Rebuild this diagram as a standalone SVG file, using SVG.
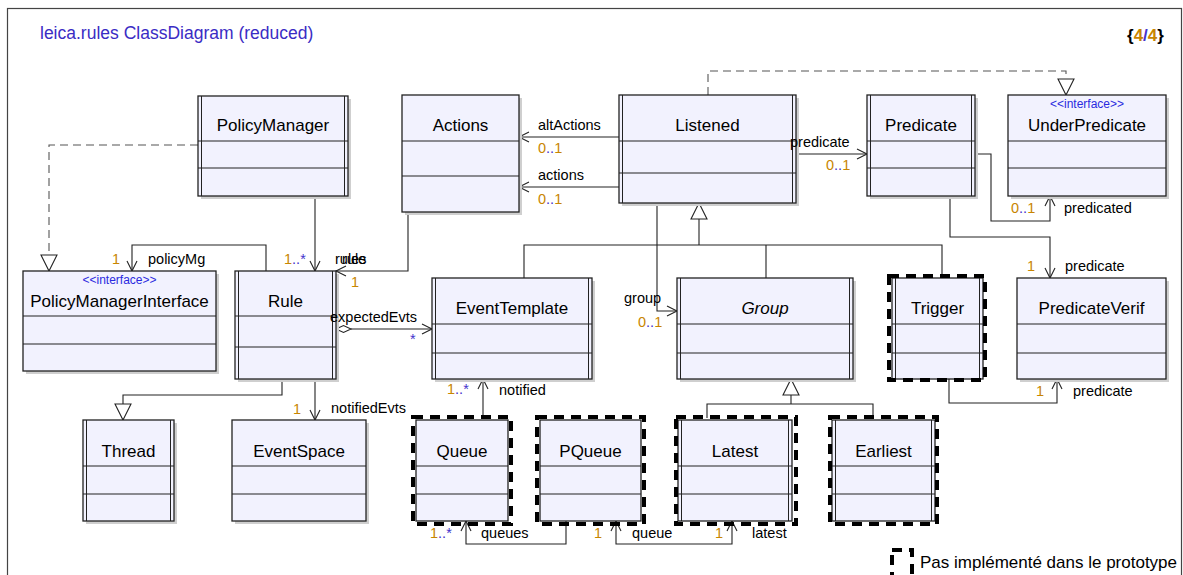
<svg xmlns="http://www.w3.org/2000/svg" width="1183" height="575" viewBox="0 0 1183 575">
<style>
text{font-family:"Liberation Sans",Arial,sans-serif;}
.frame{fill:#fff;stroke:#444;stroke-width:1.2}
.title{font-size:17.5px;fill:#3a2cc4}
.box{fill:#f2f2fe;stroke:#222;stroke-width:1.3}
.sh{fill:#cfcfcf}
.sep{stroke:#222;stroke-width:1.2}
.act{stroke:#222;stroke-width:1}
.name{font-size:17px;fill:#000;text-anchor:middle}
.ital{font-style:italic}
.stereo{font-size:12px;fill:#2a2ae0;text-anchor:middle}
.ni{fill:none;stroke:#000;stroke-width:4;stroke-dasharray:10 7}
.conn{fill:none;stroke:#222;stroke-width:1.1}
.dash{stroke-dasharray:8 5;stroke:#555}
.lbl{font-size:14.5px;fill:#000}
.m{font-size:14.5px;fill:#c88500}
.b{fill:#4433cc}
</style>
<defs>
<marker id="open" markerUnits="userSpaceOnUse" markerWidth="12" markerHeight="12" refX="10" refY="5" orient="auto-start-reverse" overflow="visible">
<path d="M0,0 L10,5 L0,10" fill="none" stroke="#222" stroke-width="1.1"/>
</marker>
<marker id="tri" markerUnits="userSpaceOnUse" markerWidth="18" markerHeight="18" refX="16" refY="8" orient="auto" overflow="visible">
<path d="M0,0 L16,8 L0,16 Z" fill="#fff" stroke="#222" stroke-width="1.1" stroke-dasharray="none"/>
</marker>
</defs>
<rect class="frame" x="7.5" y="8.5" width="1174" height="620"/>
<text class="title" x="40" y="39">leica.rules ClassDiagram (reduced)</text>
<text x="1127" y="41" style="font-size:17px;font-weight:bold"><tspan fill="#000">{</tspan><tspan fill="#c88500">4</tspan><tspan fill="#4433cc">/</tspan><tspan fill="#c88500">4</tspan><tspan fill="#000">}</tspan></text>

<g id="connectors">
<path class="conn dash" d="M198,145 H49 V271" marker-end="url(#tri)"/>
<path class="conn dash" d="M708,95 V71 H1066 V95" marker-end="url(#tri)"/>
<path class="conn" d="M315,196 V271" marker-end="url(#open)"/>
<path class="conn" d="M266,271 V245 H132 V271" marker-end="url(#open)"/>
<path class="conn" d="M408,212 V271 H336" marker-end="url(#open)"/>
<path class="conn" d="M619,137 H519" marker-end="url(#open)"/>
<path class="conn" d="M619,187 H519" marker-end="url(#open)"/>
<path class="conn" d="M796,154 H867" marker-end="url(#open)"/>
<path class="conn" d="M975,154 H991 V221 H1050 V196" marker-end="url(#open)"/>
<path class="conn" d="M950,196 V237 H1050 V278" marker-end="url(#open)"/>
<path class="conn" d="M699,245 V203" marker-end="url(#tri)"/>
<path class="conn" d="M524,278 V245 H942 V276 M766,245 V278"/>
<path class="conn" d="M657,203 V311 H677" marker-end="url(#open)"/>
<polygon points="336,329 343.5,325.5 351,329 343.5,332.5" fill="#fff" stroke="#222" stroke-width="1.1"/>
<path class="conn" d="M351,329 H432" marker-end="url(#open)"/>
<path class="conn" d="M282,379 V395 H123 V420" marker-end="url(#tri)"/>
<path class="conn" d="M315,379 V420" marker-end="url(#open)"/>
<path class="conn" d="M483,417 V379" marker-end="url(#open)"/>
<path class="conn" d="M566,521 V544 H466 V521" marker-end="url(#open)"/>
<path class="conn" d="M616,521 V544 H732 V521" marker-start="url(#open)" marker-end="url(#open)"/>
<path class="conn" d="M791,404 V379" marker-end="url(#tri)"/>
<path class="conn" d="M707,418 V404 H873 V418"/>
<path class="conn" d="M949,379 V403 H1057 V379" marker-end="url(#open)"/>
</g>

<g id="PolicyManager">
<rect class="sh" x="201" y="99" width="150" height="100"/>
<rect class="box" x="198" y="96" width="150" height="100"/>
<path class="sep" d="M198,141 H348 M198,168 H348"/>
<path class="act" d="M201.5,96 V196 M344.5,96 V196"/>
<text class="name" x="273" y="131">PolicyManager</text>
</g>
<g id="Actions">
<rect class="sh" x="405" y="98" width="117" height="117"/>
<rect class="box" x="402" y="95" width="117" height="117"/>
<path class="sep" d="M402,141 H519 M402,176 H519"/>
<text class="name" x="460.5" y="131">Actions</text>
</g>
<g id="Listened">
<rect class="sh" x="622" y="98" width="177" height="108"/>
<rect class="box" x="619" y="95" width="177" height="108"/>
<path class="sep" d="M619,141 H796 M619,173 H796"/>
<path class="act" d="M622.5,95 V203 M792.5,95 V203"/>
<text class="name" x="707.5" y="131">Listened</text>
</g>
<g id="Predicate">
<rect class="sh" x="870" y="98" width="108" height="101"/>
<rect class="box" x="867" y="95" width="108" height="101"/>
<path class="sep" d="M867,141 H975 M867,168 H975"/>
<path class="act" d="M870.5,95 V196 M971.5,95 V196"/>
<text class="name" x="921" y="131">Predicate</text>
</g>
<g id="UnderPredicate">
<rect class="sh" x="1011" y="98" width="158" height="101"/>
<rect class="box" x="1008" y="95" width="158" height="101"/>
<path class="sep" d="M1008,141 H1166 M1008,168 H1166"/>
<text class="stereo" x="1087" y="108">&lt;&lt;interface&gt;&gt;</text>
<text class="name" x="1087" y="131">UnderPredicate</text>
</g>
<g id="PolicyManagerInterface">
<rect class="sh" x="26" y="274" width="193" height="100"/>
<rect class="box" x="23" y="271" width="193" height="100"/>
<path class="sep" d="M23,316 H216 M23,344 H216"/>
<text class="stereo" x="119.5" y="284">&lt;&lt;interface&gt;&gt;</text>
<text class="name" x="119.5" y="307">PolicyManagerInterface</text>
</g>
<g id="Rule">
<rect class="sh" x="238" y="274" width="101" height="108"/>
<rect class="box" x="235" y="271" width="101" height="108"/>
<path class="sep" d="M235,316 H336 M235,347 H336"/>
<path class="act" d="M238.5,271 V379 M332.5,271 V379"/>
<text class="name" x="285.5" y="307">Rule</text>
</g>
<g id="EventTemplate">
<rect class="sh" x="435" y="281" width="160" height="101"/>
<rect class="box" x="432" y="278" width="160" height="101"/>
<path class="sep" d="M432,324 H592 M432,353 H592"/>
<path class="act" d="M435.5,278 V379 M588.5,278 V379"/>
<text class="name" x="512" y="314">EventTemplate</text>
</g>
<g id="Group">
<rect class="sh" x="680" y="281" width="176" height="101"/>
<rect class="box" x="677" y="278" width="176" height="101"/>
<path class="sep" d="M677,324 H853 M677,353 H853"/>
<path class="act" d="M680.5,278 V379 M849.5,278 V379"/>
<text class="name ital" x="765" y="314">Group</text>
</g>
<g id="Trigger">
<rect class="box" x="892" y="278" width="91" height="101"/>
<path class="sep" d="M892,324 H983 M892,353 H983"/>
<path class="act" d="M895.5,278 V379 M979.5,278 V379"/>
<rect class="ni" x="889" y="276" width="96" height="104"/>
<text class="name" x="937.5" y="314">Trigger</text>
</g>
<g id="PredicateVerif">
<rect class="sh" x="1020" y="281" width="149" height="101"/>
<rect class="box" x="1017" y="278" width="149" height="101"/>
<path class="sep" d="M1017,324 H1166 M1017,353 H1166"/>
<text class="name" x="1091.5" y="314">PredicateVerif</text>
</g>
<g id="Thread">
<rect class="sh" x="86" y="423" width="91" height="101"/>
<rect class="box" x="83" y="420" width="91" height="101"/>
<path class="sep" d="M83,466 H174 M83,494 H174"/>
<path class="act" d="M86.5,420 V521 M170.5,420 V521"/>
<text class="name" x="128.5" y="457">Thread</text>
</g>
<g id="EventSpace">
<rect class="sh" x="235" y="423" width="134" height="101"/>
<rect class="box" x="232" y="420" width="134" height="101"/>
<path class="sep" d="M232,466 H366 M232,494 H366"/>
<text class="name" x="299" y="457">EventSpace</text>
</g>
<g id="Queue">
<rect class="box" x="416" y="420" width="92" height="101"/>
<path class="sep" d="M416,466 H508 M416,494 H508"/>
<rect class="ni" x="413" y="417" width="98" height="107"/>
<text class="name" x="462" y="457">Queue</text>
</g>
<g id="PQueue">
<rect class="box" x="540" y="420" width="101" height="101"/>
<path class="sep" d="M540,466 H641 M540,494 H641"/>
<rect class="ni" x="537" y="417" width="107" height="107"/>
<text class="name" x="590.5" y="457">PQueue</text>
</g>
<g id="Latest">
<rect class="box" x="678" y="420" width="114" height="101"/>
<path class="sep" d="M678,466 H792 M678,494 H792"/>
<path class="act" d="M681.5,420 V521 M788.5,420 V521"/>
<rect class="ni" x="676" y="417" width="120" height="107"/>
<text class="name" x="735" y="457">Latest</text>
</g>
<g id="Earliest">
<rect class="box" x="832" y="420" width="103" height="101"/>
<path class="sep" d="M832,466 H935 M832,494 H935"/>
<path class="act" d="M835.5,420 V521 M931.5,420 V521"/>
<rect class="ni" x="830" y="417" width="107" height="107"/>
<text class="name" x="883.5" y="457">Earliest</text>
</g>
<g id="legend">
<rect class="ni" x="892" y="550" width="20" height="30"/>
<text x="920" y="568" style="font-size:17px;fill:#000">Pas implémenté dans le prototype</text>
</g>

<g id="labels">
<text class="m" x="284" y="264">1<tspan class="b">..*</tspan></text>
<text class="lbl" x="335" y="264">rules</text>
<text class="lbl" x="342" y="264">rule</text>
<text class="m" x="112" y="264">1</text>
<text class="lbl" x="148" y="264">policyMg</text>
<text class="m" x="351" y="287">1</text>
<text class="lbl" x="330" y="322">expectedEvts</text>
<text class="m b" x="410" y="344">*</text>
<text class="lbl" x="538" y="130">altActions</text>
<text class="m" x="538" y="153">0<tspan class="b">..</tspan>1</text>
<text class="lbl" x="538" y="180">actions</text>
<text class="m" x="538" y="204">0<tspan class="b">..</tspan>1</text>
<text class="lbl" x="790" y="147">predicate</text>
<text class="m" x="826" y="170">0<tspan class="b">..</tspan>1</text>
<text class="m" x="1011" y="213">0<tspan class="b">..</tspan>1</text>
<text class="lbl" x="1064" y="213">predicated</text>
<text class="m" x="1027" y="271">1</text>
<text class="lbl" x="1065" y="271">predicate</text>
<text class="lbl" x="624" y="303">group</text>
<text class="m" x="638" y="327">0<tspan class="b">..</tspan>1</text>
<text class="m" x="447" y="394">1<tspan class="b">..*</tspan></text>
<text class="lbl" x="499" y="395">notified</text>
<text class="m" x="293" y="414">1</text>
<text class="lbl" x="331" y="413">notifiedEvts</text>
<text class="m" x="1036" y="396">1</text>
<text class="lbl" x="1073" y="396">predicate</text>
<text class="m" x="430" y="538">1<tspan class="b">..*</tspan></text>
<text class="lbl" x="481" y="538">queues</text>
<text class="m" x="594" y="538">1</text>
<text class="lbl" x="632" y="538">queue</text>
<text class="m" x="715" y="538">1</text>
<text class="lbl" x="752" y="538">latest</text>
</g>
</svg>
